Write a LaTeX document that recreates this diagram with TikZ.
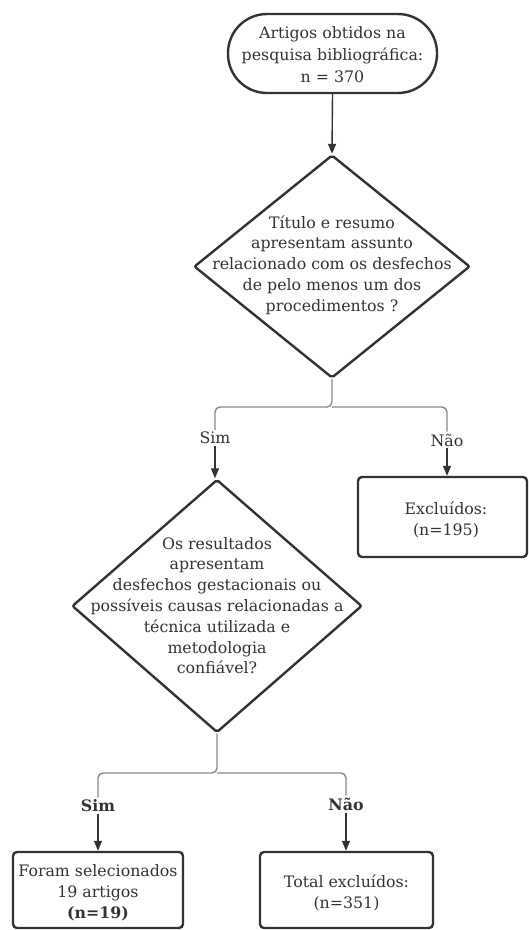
\documentclass[tikz,border=0pt]{standalone}
\usepackage{fontspec}
\setmainfont{DejaVu Serif}
\usetikzlibrary{shapes.geometric,arrows.meta}
\definecolor{ink}{HTML}{333333}
\definecolor{lk}{HTML}{8A8A8A}
\tikzset{
  txt/.style={align=center, text=ink, font=\fontsize{15.8}{20.8}\selectfont, inner sep=0pt},
  boxn/.style={draw=ink, line width=2.4pt, rounded corners=4pt, inner sep=0pt},
  diam/.style={draw=ink, line width=2.4pt, diamond, inner sep=0pt, rounded corners=2pt},
  glink/.style={draw=lk, line width=1.4pt, rounded corners=5pt},
  alink/.style={draw=ink, line width=1.4pt, -{Triangle[length=10pt,width=8pt]}},
  lab/.style={txt, fill=white, inner sep=2pt},
}
\begin{document}
\begin{tikzpicture}[x=1pt,y=-1pt]
\useasboundingbox (0,0) rectangle (528,930);
% top terminal
\node[boxn, rounded corners=39pt, minimum width=209pt, minimum height=79pt] (t) at (332.5,53.5) {};
\node[txt, font=\fontsize{15.8}{22}\selectfont] (tt) at (332.5,55) {Artigos obtidos na\\pesquisa bibliográfica:\\n = 370};
% diamond 1
\node[diam, minimum width=276pt, minimum height=223pt] (d1) at (332,266.5) {};
\node[txt] (d1t) at (332,265) {Título e resumo\\apresentam assunto\\relacionado com os desfechos\\de pelo menos um dos\\procedimentos ?};
\draw[alink] (t.south) -- (d1.north);
% branch 1
\coordinate (j1) at (332,407);
\node[lab] (s1) at (215,438) {Sim};
\node[lab] (n1) at (447,440) {Não};
\draw[glink] (d1.south) -- (j1) -| (s1.north);
\draw[glink] (j1) -| (n1.north);
% excluded box
\node[boxn, minimum width=169pt, minimum height=80pt] (ex) at (442.5,517) {};
\node[txt] (ext) at (446,520) {Excluídos:\\(n=195)};
\draw[alink] (n1.south) -- (n1.south |- ex.north);
% diamond 2
\node[diam, minimum width=290pt, minimum height=253pt] (d2) at (217,606) {};
\node[txt] (d2t) at (217,605.5) {Os resultados\\apresentam\\desfechos gestacionais ou\\possíveis causas relacionadas a\\técnica utilizada e\\metodologia\\confiável?};
\draw[alink] (s1.south) -- (s1.south |- d2.north);
% branch 2
\coordinate (j2) at (214,773);
\node[lab, font=\fontsize{15.8}{20.8}\selectfont\bfseries] (s2) at (98,806) {Sim};
\node[lab, font=\fontsize{15.8}{20.8}\selectfont\bfseries] (n2) at (346,804) {Não};
\draw[glink] (d2.south) -- (d2.south |- j2) -| (s2.north);
\draw[glink] (d2.south |- j2) -| (n2.north);
% bottom boxes
\node[boxn, minimum width=170pt, minimum height=76pt] (sel) at (98,890) {};
\node[txt] (selt) at (98,893) {Foram selecionados\\19 artigos\\\textbf{(n=19)}};
\node[boxn, minimum width=173pt, minimum height=76pt] (tot) at (346.5,890) {};
\node[txt] (tott) at (346.5,893) {Total excluídos:\\(n=351)};
\draw[alink] (s2.south) -- (s2.south |- sel.north);
\draw[alink] (n2.south) -- (n2.south |- tot.north);
\end{tikzpicture}
\end{document}
